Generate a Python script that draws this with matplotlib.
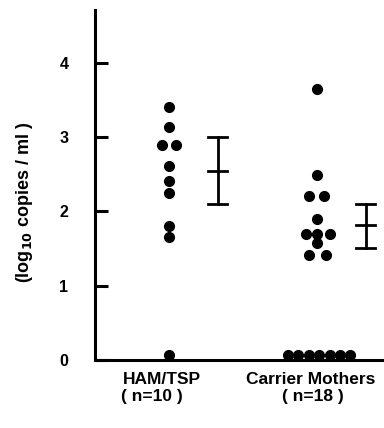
#!/usr/bin/env python3
"""HTLV-1 proviral load scatter: HAM/TSP vs carrier mothers"""

import numpy as np
import matplotlib

matplotlib.use("Agg")
import matplotlib.pyplot as plt
from matplotlib.transforms import blended_transform_factory

#
# DATA (log10 copies / ml)
#
groups = ["HAM/TSP", "Carrier Mothers"]
group_n = ["( n=10 )", "( n=18 )"]
ham_values = [3.40, 3.14, 2.89, 2.89, 2.61, 2.41, 2.25, 1.80, 1.65, 0.07]
carrier_values = [3.64, 2.49, 2.21, 2.21, 1.90, 1.70, 1.70, 1.70, 1.57, 1.41, 1.41,
                  0.07, 0.07, 0.07, 0.07, 0.07, 0.07, 0.07]
# mean and range bar (top, mid, bottom)
ham_bar = [3.00, 2.54, 2.10]
carrier_bar = [2.10, 1.81, 1.50]

# horizontal jitter so dots do not overlap (layout only)
ham_jitter = [0, 0, -0.045, 0.045, 0, 0, 0, 0, 0, 0]
carrier_jitter = [0, 0, -0.055, 0.05, 0, -0.075, 0.0, 0.09, 0, -0.055, 0.06,
                  -0.195, -0.125, -0.055, 0.015, 0.085, 0.155, 0.225]

plt.rcParams["font.family"] = ["Liberation Sans", "DejaVu Sans"]
plt.rcParams["font.weight"] = "bold"
plt.rcParams["mathtext.default"] = "bf"

fig = plt.figure(figsize=(3.84, 4.28), dpi=100)
ax = fig.add_axes([0.247, 0.159, 0.753, 0.818])

pos = [1, 2]
for p, vals, jit in [(pos[0], ham_values, ham_jitter), (pos[1], carrier_values, carrier_jitter)]:
    ax.plot(np.array(jit) + p, vals, "o", color="black", markersize=7.0, clip_on=False, zorder=3)

# range bars with caps
bar_off = 0.33
cap = 0.065
for p, (top, mid, bot) in [(pos[0], ham_bar), (pos[1], carrier_bar)]:
    x = p + bar_off
    ax.plot([x, x], [bot, top], color="black", lw=2.0)
    for yv in (top, mid, bot):
        ax.plot([x - cap, x + cap], [yv, yv], color="black", lw=2.0)

ax.set_xlim(0.5, 2.453)
ax.set_ylim(0, 4.71)

for s in ["top", "right"]:
    ax.spines[s].set_visible(False)
ax.spines["left"].set_linewidth(2.2)
ax.spines["bottom"].set_linewidth(2.2)

ax.set_yticks([0, 1, 2, 3, 4])
ax.tick_params(axis="y", direction="in", length=9, width=2.2, labelsize=11.5, pad=19)
ax.set_xticks([])

# group labels below the axis
trans = blended_transform_factory(ax.transData, fig.transFigure)
name_x = [0.953, 1.955]
n_x = [0.885, 1.97]
for i in range(len(groups)):
    ax.text(name_x[i], 1 - 380 / 428, groups[i], transform=trans, ha="center", va="center",
            fontsize=12.5, fontweight="bold")
    ax.text(n_x[i], 1 - 397 / 428, group_n[i], transform=trans, ha="center", va="center",
            fontsize=12.5, fontweight="bold")

ax.set_ylabel("(log$_{10}$ copies / ml )", fontsize=13, fontweight="bold")
ax.yaxis.set_label_coords(-0.208, 0.45)

fig.savefig("out.png", dpi=100)
